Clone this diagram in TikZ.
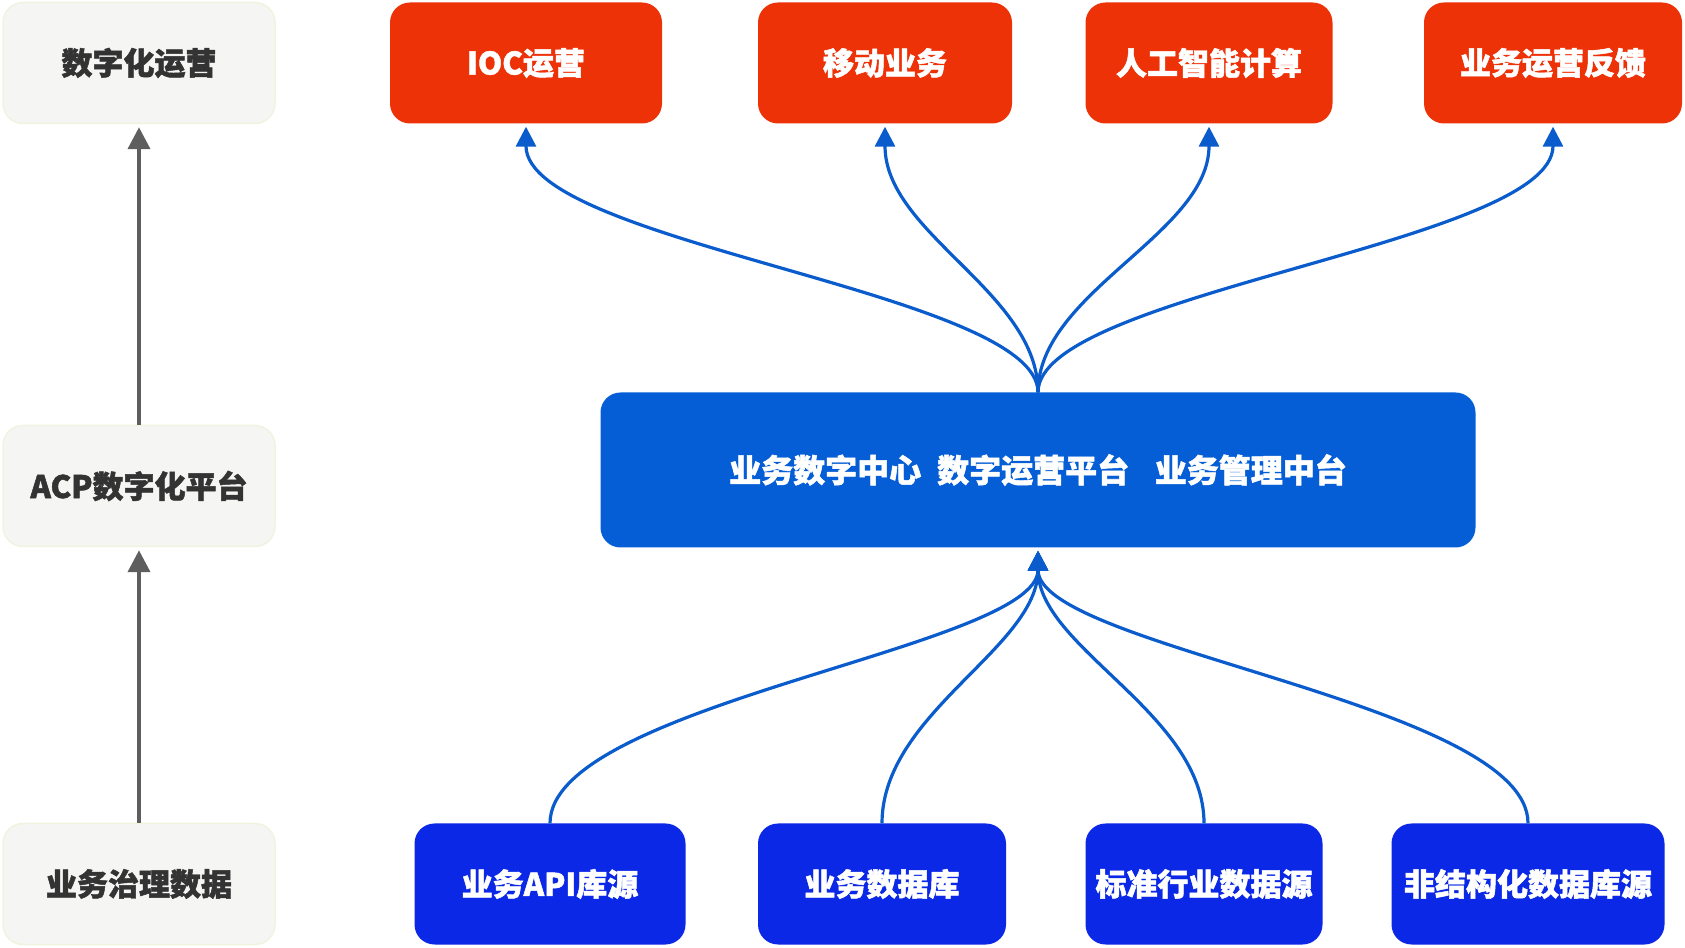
\documentclass[tikz,border=0pt]{standalone}
\usepackage{fontspec}
\setmainfont{Noto Sans CJK SC}[BoldFeatures={FakeBold=1.6}]
\usetikzlibrary{arrows.meta}
\definecolor{opred}{HTML}{EE3208}
\definecolor{hubblue}{HTML}{065ED6}
\definecolor{srcblue}{HTML}{0A28E6}
\definecolor{curveblue}{HTML}{0A5CCC}
\definecolor{layergray}{HTML}{F5F5F4}
\definecolor{layerline}{HTML}{F2F2E0}
\definecolor{arrowgray}{HTML}{5E5E5E}
\begin{document}
\begin{tikzpicture}[x=1pt,y=1pt,
    box/.style={rounded corners=20pt,minimum height=121pt,inner sep=0pt,
      font=\fontsize{31}{36}\selectfont\bfseries},
    layer/.style={box,fill=layergray,draw=layerline,line width=1.5pt,text=black!80,minimum width=272pt},
    app/.style={box,fill=opred,text=white},
    src/.style={box,fill=srcblue,text=white},
    feed/.style={curveblue,line width=3.2pt,shorten >=3pt,-{Triangle[length=20pt,width=20pt]}},
    up/.style={arrowgray,line width=4pt,shorten >=3pt,-{Triangle[length=22pt,width=22pt]}}]
\useasboundingbox (0,0) rectangle (1685,947);
% left column
\node[layer] (ops)  at (139,884) {数字化运营};
\node[layer] (acp)  at (139,461) {ACP数字化平台};
\node[layer] (gov)  at (139,63)  {业务治理数据};
\draw[up] (acp.north) -- (ops.south);
\draw[up] (gov.north) -- (acp.south);
% top row
\node[app,minimum width=272pt] (ioc)  at (526,884)  {IOC运营};
\node[app,minimum width=254pt] (mob)  at (885,884)  {移动业务};
\node[app,minimum width=247pt] (ai)   at (1209,884) {人工智能计算};
\node[app,minimum width=258pt] (fb)   at (1553,884) {业务运营反馈};
% middle platform
\node[box,fill=hubblue,text=white,minimum width=875pt,minimum height=155pt,
  font=\fontsize{32}{36}\selectfont\bfseries] (hub) at (1038,477)
  {业务数字中心\hspace{0.5em}数字运营平台\hspace{0.8em}业务管理中台};
% bottom row
\node[src,minimum width=271pt] (api)  at (550,63)  {业务API库源};
\node[src,minimum width=248pt] (db)   at (882,63)  {业务数据库};
\node[src,minimum width=237pt] (std)  at (1204,63) {标准行业数据源};
\node[src,minimum width=273pt] (uns)  at (1528,63) {非结构化数据库源};
% curves up to the apps
\foreach \t/\a/\b in {ioc/100/120,mob/100/110,ai/100/110,fb/100/120}
  \draw[feed] (hub.north) .. controls +(0,\a) and +(0,-\b) .. (\t.south);
% curves up from the sources
\foreach \s/\a/\b in {api/120/100,db/110/100,std/110/100,uns/120/100}
  \draw[feed] (\s.north) .. controls +(0,\a) and +(0,-\b) .. (hub.south);
\end{tikzpicture}
\end{document}
